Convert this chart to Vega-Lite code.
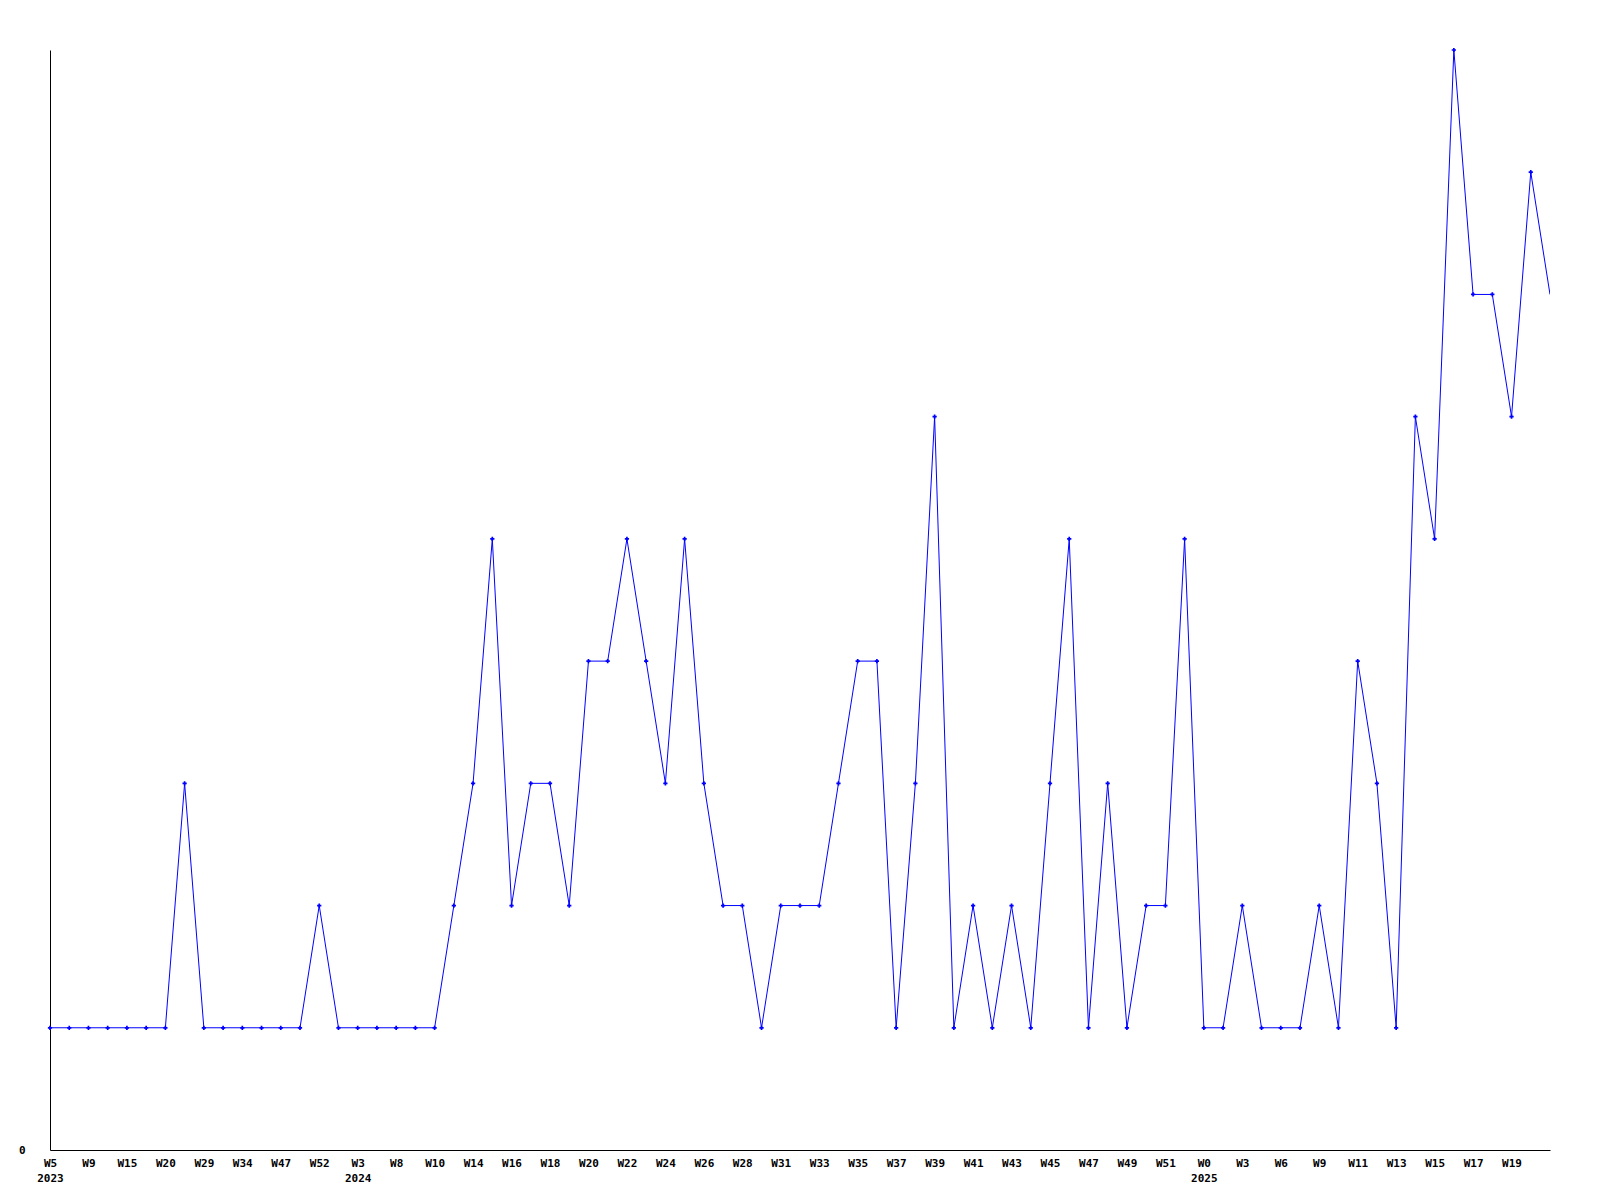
{
  "$schema": "https://vega.github.io/schema/vega-lite/v6.json",
  "autosize": "none",
  "padding": {"left": 50, "top": 50, "right": 50, "bottom": 50},
  "width": 1500,
  "height": 1100,
  "background": "white",
  "config": {
    "view": {"stroke": null},
    "axis": {"labelFont": "DejaVu Sans Mono", "labelFontWeight": "bold", "labelFontSize": 11, "labelColor": "black", "domainColor": "black", "domainWidth": 1, "grid": false, "ticks": false, "title": null}
  },
  "data": {"values": [
    {"key": "2023-W5", "value": 1}, {"key": "2023-W7", "value": 1}, {"key": "2023-W9", "value": 1}, {"key": "2023-W12", "value": 1},
    {"key": "2023-W15", "value": 1}, {"key": "2023-W17", "value": 1}, {"key": "2023-W20", "value": 1}, {"key": "2023-W24", "value": 3},
    {"key": "2023-W29", "value": 1}, {"key": "2023-W31", "value": 1}, {"key": "2023-W34", "value": 1}, {"key": "2023-W40", "value": 1},
    {"key": "2023-W47", "value": 1}, {"key": "2023-W50", "value": 1}, {"key": "2023-W52", "value": 2}, {"key": "2024-W1", "value": 1},
    {"key": "2024-W3", "value": 1}, {"key": "2024-W5", "value": 1}, {"key": "2024-W8", "value": 1}, {"key": "2024-W9", "value": 1},
    {"key": "2024-W10", "value": 1}, {"key": "2024-W12", "value": 2}, {"key": "2024-W14", "value": 3}, {"key": "2024-W15", "value": 5},
    {"key": "2024-W16", "value": 2}, {"key": "2024-W17", "value": 3}, {"key": "2024-W18", "value": 3}, {"key": "2024-W19", "value": 2},
    {"key": "2024-W20", "value": 4}, {"key": "2024-W21", "value": 4}, {"key": "2024-W22", "value": 5}, {"key": "2024-W23", "value": 4},
    {"key": "2024-W24", "value": 3}, {"key": "2024-W25", "value": 5}, {"key": "2024-W26", "value": 3}, {"key": "2024-W27", "value": 2},
    {"key": "2024-W28", "value": 2}, {"key": "2024-W30", "value": 1}, {"key": "2024-W31", "value": 2}, {"key": "2024-W32", "value": 2},
    {"key": "2024-W33", "value": 2}, {"key": "2024-W34", "value": 3}, {"key": "2024-W35", "value": 4}, {"key": "2024-W36", "value": 4},
    {"key": "2024-W37", "value": 1}, {"key": "2024-W38", "value": 3}, {"key": "2024-W39", "value": 6}, {"key": "2024-W40", "value": 1},
    {"key": "2024-W41", "value": 2}, {"key": "2024-W42", "value": 1}, {"key": "2024-W43", "value": 2}, {"key": "2024-W44", "value": 1},
    {"key": "2024-W45", "value": 3}, {"key": "2024-W46", "value": 5}, {"key": "2024-W47", "value": 1}, {"key": "2024-W48", "value": 3},
    {"key": "2024-W49", "value": 1}, {"key": "2024-W50", "value": 2}, {"key": "2024-W51", "value": 2}, {"key": "2024-W52", "value": 5},
    {"key": "2025-W0", "value": 1}, {"key": "2025-W2", "value": 1}, {"key": "2025-W3", "value": 2}, {"key": "2025-W5", "value": 1},
    {"key": "2025-W6", "value": 1}, {"key": "2025-W8", "value": 1}, {"key": "2025-W9", "value": 2}, {"key": "2025-W10", "value": 1},
    {"key": "2025-W11", "value": 4}, {"key": "2025-W12", "value": 3}, {"key": "2025-W13", "value": 1}, {"key": "2025-W14", "value": 6},
    {"key": "2025-W15", "value": 5}, {"key": "2025-W16", "value": 9}, {"key": "2025-W17", "value": 7}, {"key": "2025-W18", "value": 7},
    {"key": "2025-W19", "value": 6}, {"key": "2025-W20", "value": 8}, {"key": "2025-W21", "value": 7}
  ]},
  "encoding": {
    "x": {
      "field": "key", "type": "ordinal", "sort": null,
      "scale": {"type": "point", "padding": 0},
      "axis": {
        "labelAngle": 0, "labelPadding": 7, "labelBaseline": "top", "labelLineHeight": 15, "labelAlign": "center",
        "values": ["2023-W5", "2023-W9", "2023-W15", "2023-W20", "2023-W29", "2023-W34", "2023-W47", "2023-W52",
                   "2024-W3", "2024-W8", "2024-W10", "2024-W14", "2024-W16", "2024-W18", "2024-W20", "2024-W22", "2024-W24",
                   "2024-W26", "2024-W28", "2024-W31", "2024-W33", "2024-W35", "2024-W37", "2024-W39", "2024-W41", "2024-W43",
                   "2024-W45", "2024-W47", "2024-W49", "2024-W51", "2025-W0", "2025-W3", "2025-W6", "2025-W9", "2025-W11",
                   "2025-W13", "2025-W15", "2025-W17", "2025-W19"],
        "labelExpr": "indexof(['2023-W5','2024-W3','2025-W0'], datum.value) >= 0 ? [split(datum.value, '-')[1], split(datum.value, '-')[0]] : split(datum.value, '-')[1]",
        "labelOverlap": false
      }
    },
    "y": {
      "field": "value", "type": "quantitative",
      "scale": {"domain": [0, 9], "nice": false, "zero": true},
      "axis": {"values": [0], "labelPadding": 25, "labelBaseline": "middle"}
    }
  },
  "layer": [
    {"mark": {"type": "line", "color": "#0000ff", "strokeWidth": 1, "clip": true}},
    {
      "transform": [{"filter": "datum.key != '2025-W21'"}],
      "mark": {"type": "point", "shape": "cross", "filled": true, "color": "#0000ff", "size": 18, "opacity": 1}
    }
  ]
}
